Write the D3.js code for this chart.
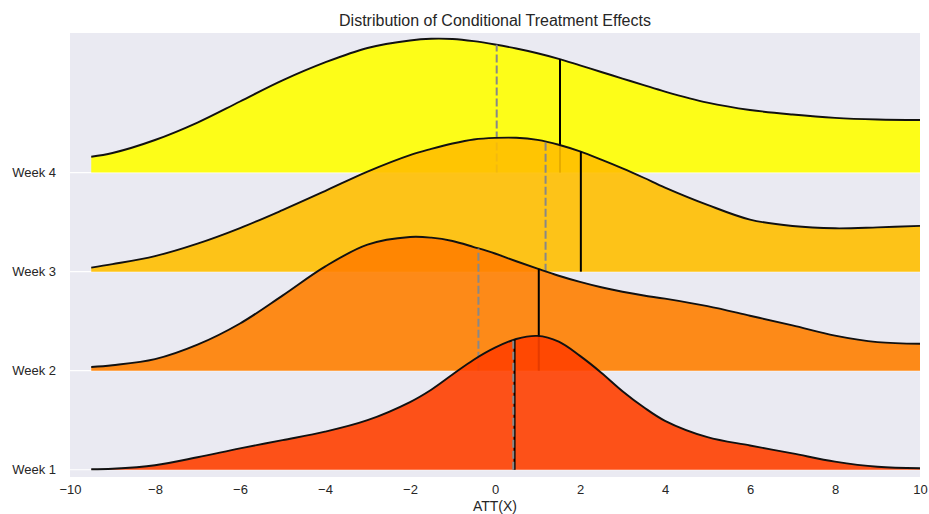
<!DOCTYPE html>
<html>
<head>
<meta charset="utf-8">
<script src="https://cdn.jsdelivr.net/npm/d3@7"></script>
<style>
  body { margin: 0; background: #ffffff; }
  text { font-family: "Liberation Sans", Arial, sans-serif; fill: #262626; }
</style>
</head>
<body>
<svg id="chart" width="929" height="514"></svg>
<script>
// Ridge categories, bottom to top
const weeks = ["Week 1", "Week 2", "Week 3", "Week 4"];
const fillColors = ["#ff4000", "#ff8000", "#ffbf00", "#ffff00"];

// Evaluation grid of ATT(X) values for the density curves
const gridX = [-9.5, -9, -8, -7, -6, -5, -4, -3, -2, -1.5, -1, -0.5, 0, 0.5,
               1, 1.5, 2, 2.5, 3, 3.5, 4, 5, 6, 7, 8, 9, 10];

// Relative density (peak = 1) of each week's conditional effects
const densWeek1 = [0.004, 0.008, 0.034, 0.093, 0.160, 0.221, 0.284, 0.370, 0.505, 0.597, 0.710, 0.820, 0.910, 0.975,
                   0.998, 0.955, 0.849, 0.724, 0.586, 0.466, 0.365, 0.243, 0.181, 0.122, 0.061, 0.022, 0.011];
const densWeek2 = [0.028, 0.041, 0.086, 0.194, 0.352, 0.560, 0.776, 0.940, 0.997, 0.992, 0.967, 0.922, 0.874, 0.816,
                   0.761, 0.708, 0.662, 0.622, 0.589, 0.561, 0.537, 0.481, 0.410, 0.338, 0.262, 0.213, 0.201];
const densWeek3 = [0.030, 0.056, 0.116, 0.209, 0.325, 0.459, 0.601, 0.746, 0.869, 0.915, 0.955, 0.985, 0.997, 0.998,
                   0.982, 0.946, 0.896, 0.835, 0.770, 0.700, 0.627, 0.498, 0.388, 0.340, 0.323, 0.330, 0.341];
const densWeek4 = [0.118, 0.146, 0.243, 0.373, 0.530, 0.687, 0.821, 0.929, 0.985, 0.998, 0.996, 0.980, 0.955, 0.925,
                   0.890, 0.848, 0.799, 0.750, 0.701, 0.652, 0.604, 0.522, 0.467, 0.433, 0.408, 0.396, 0.392];
const densities = [densWeek1, densWeek2, densWeek3, densWeek4];

// Summary markers per week: dashed grey (mean) and solid black (median)
const meanATT = [0.43, -0.39, 1.19, 0.04];
const medianATT = [0.46, 1.03, 2.02, 1.53];

// Axis ticks
const xTicks = [-10, -8, -6, -4, -2, 0, 2, 4, 6, 8, 10];
const yTicks = [1, 2, 3, 4];

const overlap = 1.354;   // ridge peak height in units of row spacing

const svg = d3.select("#chart");
const plotLeft = 70, plotRight = 920, plotTop = 33, plotBottom = 477;

const x = d3.scaleLinear().domain([-10, 10]).range([plotLeft, plotRight]);
const y = d3.scaleLinear().domain([0.927, 5.409]).range([plotBottom, plotTop]);

svg.append("defs").append("clipPath").attr("id", "plotClip")
  .append("rect").attr("x", plotLeft).attr("y", plotTop)
  .attr("width", plotRight - plotLeft).attr("height", plotBottom - plotTop);

// Plot background
svg.append("rect")
  .attr("x", plotLeft).attr("y", plotTop)
  .attr("width", plotRight - plotLeft).attr("height", plotBottom - plotTop)
  .attr("fill", "#eaeaf2");

// Horizontal grid lines at each ridge baseline
svg.append("g").selectAll("line").data(yTicks).join("line")
  .attr("x1", plotLeft).attr("x2", plotRight)
  .attr("y1", d => y(d)).attr("y2", d => y(d))
  .attr("stroke", "#ffffff").attr("stroke-width", 1.2);

const plot = svg.append("g").attr("clip-path", "url(#plotClip)");
const smooth = d3.curveCatmullRom.alpha(0.5);

// Draw from the top ridge down so lower ridges sit in front
for (let i = weeks.length - 1; i >= 0; i--) {
  const base = i + 1;
  const pts = gridX.map((gx, j) => ({ x: gx, v: densities[i][j] }));

  const area = d3.area()
    .x(d => x(d.x))
    .y0(y(base))
    .y1(d => y(base + d.v * overlap))
    .curve(smooth);
  const line = d3.line()
    .x(d => x(d.x))
    .y(d => y(base + d.v * overlap))
    .curve(smooth);

  const g = plot.append("g");
  g.append("path").attr("d", area(pts))
    .attr("fill", fillColors[i]).attr("fill-opacity", 0.9);

  const outline = g.append("path").attr("d", line(pts))
    .attr("fill", "none").attr("stroke", "#111111").attr("stroke-width", 1.9);

  // Find the curve's screen y at a given data x on the drawn outline
  const node = outline.node();
  const total = node.getTotalLength();
  function curveY(val) {
    const px = x(val);
    let lo = 0, hi = total;
    for (let k = 0; k < 40; k++) {
      const mid = (lo + hi) / 2;
      if (node.getPointAtLength(mid).x < px) lo = mid; else hi = mid;
    }
    return node.getPointAtLength((lo + hi) / 2).y;
  }

  g.append("line")
    .attr("x1", x(medianATT[i])).attr("x2", x(medianATT[i]))
    .attr("y1", y(base)).attr("y2", curveY(medianATT[i]))
    .attr("stroke", "#000000").attr("stroke-width", 2);

  g.append("line")
    .attr("x1", x(meanATT[i])).attr("x2", x(meanATT[i]))
    .attr("y1", y(base)).attr("y2", curveY(meanATT[i]))
    .attr("stroke", "#888888").attr("stroke-width", 2)
    .attr("stroke-dasharray", "8,3");
}

// X axis
const xAxis = svg.append("g")
  .attr("transform", `translate(0,${plotBottom})`)
  .call(d3.axisBottom(x).tickValues(xTicks).tickSize(0).tickPadding(8));
xAxis.select(".domain").remove();

// Y axis with week labels
const yAxis = svg.append("g")
  .attr("transform", `translate(${plotLeft},0)`)
  .call(d3.axisLeft(y).tickValues(yTicks).tickFormat(d => weeks[d - 1]).tickSize(0).tickPadding(14));
yAxis.select(".domain").remove();

svg.selectAll(".tick text")
  .attr("fill", "#262626")
  .attr("font-size", 13)
  .attr("font-family", null);
svg.selectAll(".tick").each(function () { d3.select(this.parentNode).attr("font-family", null).attr("font-size", null); });

// Axis label and title
svg.append("text")
  .attr("x", (plotLeft + plotRight) / 2).attr("y", 511)
  .attr("text-anchor", "middle").attr("font-size", 14)
  .text("ATT(X)");

svg.append("text")
  .attr("x", (plotLeft + plotRight) / 2).attr("y", 26)
  .attr("text-anchor", "middle").attr("font-size", 16)
  .text("Distribution of Conditional Treatment Effects");
</script>
</body>
</html>
